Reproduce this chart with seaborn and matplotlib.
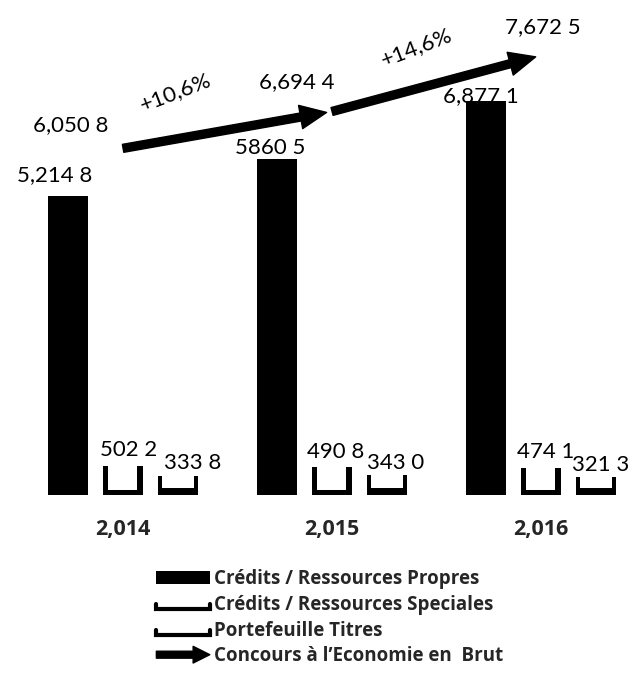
import matplotlib
matplotlib.use("Agg")
import matplotlib.pyplot as plt
import matplotlib.patches as mpatches
from matplotlib.lines import Line2D
from matplotlib.legend_handler import HandlerBase
import seaborn as sns
import pandas as pd

# ---- data -------------------------------------------------------------
years = ["2,014", "2,015", "2,016"]
series = ["Crédits / Ressources Propres",
          "Crédits / Ressources Speciales",
          "Portefeuille Titres"]
propres = [5214.8, 5860.5, 6877.1]
speciales = [502.2, 490.8, 474.1]
portefeuille = [333.8, 343.0, 321.3]
propres_labels = ["5,214 8", "5860 5", "6,877 1"]
speciales_labels = ["502 2", "490 8", "474 1"]
portefeuille_labels = ["333 8", "343 0", "321 3"]

concours = [6050.8, 6694.4, 7672.5]
concours_labels = ["6,050 8", "6,694 4", "7,672 5"]
growth_labels = ["+10,6%", "+14,6%"]
arrow_label = "Concours à l\u2019Economie en  Brut"

# ---- style ------------------------------------------------------------
sns.set_theme(style="white")
plt.rcParams["font.family"] = ["Lato", "DejaVu Sans"]
BOLD_FAMILY = ["Open Sans", "DejaVu Sans"]
LABEL_SIZE = 16

W, H, DPI = 633, 677, 100
fig = plt.figure(figsize=(W / DPI, H / DPI), dpi=DPI)
fig.patch.set_facecolor("white")

base_px = 495.0          # baseline of the bars (pixels from top)
ymax = 8640.0
ax = fig.add_axes([0, (H - base_px) / H, 1, base_px / H])
ax.set_facecolor("white")

df = pd.DataFrame({
    "year": years * 3,
    "series": [series[0]] * 3 + [series[1]] * 3 + [series[2]] * 3,
    "value": propres + speciales + portefeuille,
})

sns.barplot(data=df, x="year", y="value", hue="series", hue_order=series,
            order=years, palette=["black"] * 3, width=0.79, gap=0.27,
            legend=False, ax=ax, saturation=1, edgecolor="none")

ax.set_xlim(-0.589, 2.44)
ax.set_ylim(0, ymax)
for s in ax.spines.values():
    s.set_visible(False)
ax.set_yticks([])
ax.set_xlabel("")
ax.set_ylabel("")
ax.tick_params(axis="x", length=0, pad=17)
for t in ax.get_xticklabels():
    t.set_fontweight("bold")
    t.set_fontsize(15.5)
    t.set_family(BOLD_FAMILY)

# pixel -> data scale helpers
px_x = (2.44 + 0.589) / W
px_y = ymax / base_px

# hollow tray look for the two small series
insets = [(5, 6, 5), (4, 4, 7)]   # left, right, bottom thickness in pixels
for cont, (il, ir, ib) in zip(ax.containers[1:3], insets):
    for bar in cont:
        x0 = bar.get_x()
        w = bar.get_width()
        h = bar.get_height()
        inner = mpatches.Rectangle(
            (x0 + il * px_x, ib * px_y),
            w - (il + ir) * px_x, h,
            facecolor="white", edgecolor="none", zorder=bar.get_zorder() + 0.1)
        ax.add_patch(inner)

# value labels
label_sets = [propres_labels, speciales_labels, portefeuille_labels]
offsets = [
    [(-13, 21), (-7, 11), (-5, 5)],
    [(6, 16), (4, 15), (5, 16)],
    [(15, 13), (9, 12), (5, 12)],
]
for cont, labs, offs in zip(ax.containers[:3], label_sets, offsets):
    for bar, lab, (dx, dy) in zip(cont, labs, offs):
        ax.annotate(lab, (bar.get_x() + bar.get_width() / 2, bar.get_height()),
                    xytext=(dx, dy), textcoords="offset pixels",
                    ha="center", va="center", fontsize=LABEL_SIZE,
                    color="black", zorder=5)

# growth arrows between yearly totals
xs = list(range(len(years)))
for i in range(len(concours) - 1):
    arr = mpatches.FancyArrowPatch(
        (xs[i], concours[i]), (xs[i + 1], concours[i + 1]),
        arrowstyle="simple,head_length=19,head_width=17,tail_width=5.8",
        mutation_scale=1, color="black", shrinkA=0, shrinkB=4, zorder=4)
    ax.add_patch(arr)

total_offsets = [(-52, 23), (-35, 29), (2, 28)]
for x, v, lab, (dx, dy) in zip(xs, concours, concours_labels, total_offsets):
    ax.annotate(lab, (x, v), xytext=(dx, dy), textcoords="offset pixels",
                ha="center", va="center", fontsize=LABEL_SIZE, color="black",
                zorder=6)

growth_offsets = [(-52, 38), (-20, 36)]
for i, (lab, (dx, dy)) in enumerate(zip(growth_labels, growth_offsets)):
    mx = (xs[i] + xs[i + 1]) / 2
    my = (concours[i] + concours[i + 1]) / 2
    ax.annotate(lab, (mx, my), xytext=(dx, dy), textcoords="offset pixels",
                ha="center", va="center", fontsize=LABEL_SIZE, color="black",
                rotation=21, zorder=6)


# ---- legend -----------------------------------------------------------
class TrayHandler(HandlerBase):
    def create_artists(self, legend, orig_handle, xdescent, ydescent,
                       width, height, fontsize, trans):
        x0, y0 = -xdescent, -ydescent + height * 0.05
        line = Line2D([x0, x0, x0 + width, x0 + width],
                      [y0 + height * 0.4, y0, y0, y0 + height * 0.4],
                      color="black", lw=3.0, solid_joinstyle="miter",
                      transform=trans)
        return [line]


class ArrowHandler(HandlerBase):
    def create_artists(self, legend, orig_handle, xdescent, ydescent,
                       width, height, fontsize, trans):
        y = -ydescent + height / 2
        arr = mpatches.FancyArrowPatch(
            (-xdescent, y), (-xdescent + width, y),
            arrowstyle="simple,head_length=12,head_width=12,tail_width=5",
            mutation_scale=1, color="black", shrinkA=0, shrinkB=0,
            transform=trans)
        return [arr]


h_solid = mpatches.Patch(facecolor="black", edgecolor="none")
h_spec = mpatches.Patch(facecolor="white")
h_port = mpatches.Patch(facecolor="white", edgecolor="black")
h_arrow = mpatches.FancyArrow(0, 0, 1, 0)

fig.legend([h_solid, h_spec, h_port, h_arrow],
           series + [arrow_label],
           handler_map={h_spec: TrayHandler(), h_port: TrayHandler(),
                        h_arrow: ArrowHandler()},
           loc="upper left", bbox_to_anchor=(147 / W, 1 - 560 / H),
           frameon=False, borderpad=0, handlelength=2.85, handleheight=0.7,
           handletextpad=0.2, labelspacing=0.3,
           prop={"family": BOLD_FAMILY, "weight": "bold", "size": 13.5})

fig.savefig("out.png", dpi=DPI, facecolor="white")
